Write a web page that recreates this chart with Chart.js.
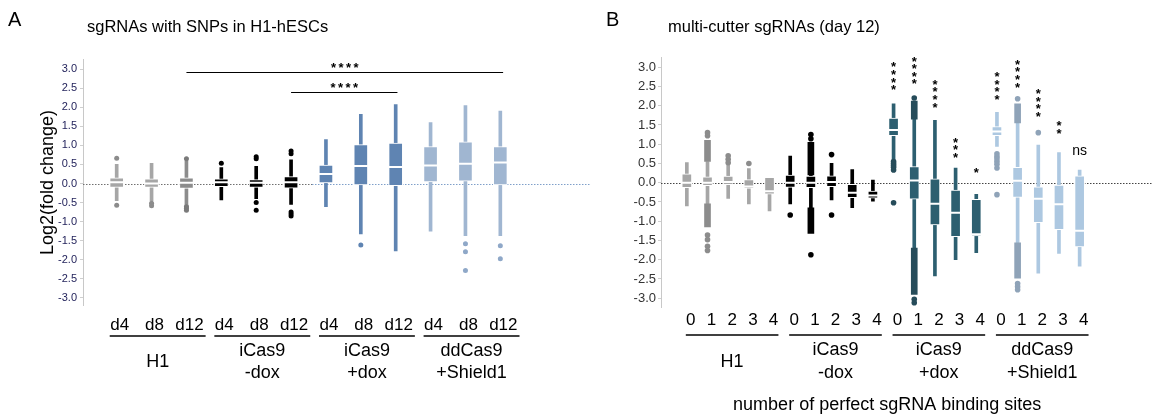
<!DOCTYPE html>
<html>
<head>
<meta charset="utf-8">
<title>sgRNA fold change</title>
<script src="https://cdn.jsdelivr.net/npm/chart.js@4.4.1/dist/chart.umd.min.js"></script>
<style>
  html, body { margin: 0; padding: 0; background: #fff; }
  #wrap { position: relative; width: 1159px; height: 419px; overflow: hidden; }
  canvas { position: absolute; top: 0; }
  #panelA { left: 0; }
  #panelB { left: 580px; }
</style>
</head>
<body>
<div id="wrap">
  <canvas id="panelA" width="600" height="419"></canvas>
  <canvas id="panelB" width="579" height="419"></canvas>
</div>
<script>
const FONT = "'Liberation Sans', Arial, Helvetica, sans-serif";

// ---------- panel A: sgRNAs with SNPs in H1-hESCs ----------
const catsA = ['d4', 'd8', 'd12', 'd4', 'd8', 'd12', 'd4', 'd8', 'd12', 'd4', 'd8', 'd12'];
const groupsA = [['H1'], ['iCas9', '-dox'], ['iCas9', '+dox'], ['ddCas9', '+Shield1']];
const whiskLoA = [-0.45, -0.45, -0.55, -0.43, -0.40, -0.55, -0.61, -1.32, -1.77, -1.25, -1.37, -1.37];
const q1A      = [-0.10, -0.10, -0.13, -0.08, -0.10, -0.12, 0.00, -0.04, -0.06, 0.04, 0.06, -0.04];
const medA     = [0.03, 0.00, 0.02, 0.03, 0.02, 0.03, 0.25, 0.46, 0.43, 0.47, 0.52, 0.55];
const q3A      = [0.15, 0.12, 0.15, 0.12, 0.10, 0.18, 0.48, 1.02, 1.06, 0.97, 1.09, 0.97];
const whiskHiA = [0.50, 0.53, 0.58, 0.42, 0.45, 0.62, 1.15, 1.81, 2.07, 1.60, 2.04, 1.90];
const outliersA = [
  [0.66, -0.57], [-0.52, -0.58], [0.65, -0.60, -0.65, -0.70],
  [0.53], [0.65, 0.70, -0.50, -0.70], [0.78, 0.85, -0.75, -0.80, -0.85],
  [], [-1.61], [],
  [], [-1.58, -1.79, -2.28], [-1.63, -1.97]
];
const bracketFromA = [2, 5];
const bracketToA = [11.08, 8.05];
const bracketYA = [2.93, 2.39];
const bracketTextA = ['****', '****'];

// ---------- panel B: multi-cutter sgRNAs (day 12) ----------
const catsB = ['0', '1', '2', '3', '4', '0', '1', '2', '3', '4', '0', '1', '2', '3', '4', '0', '1', '2', '3', '4'];
const groupsB = [['H1'], ['iCas9', '-dox'], ['iCas9', '+dox'], ['ddCas9', '+Shield1']];
const whiskLoB = [-0.60, -0.55, -0.41, -0.55, -0.73, -0.55, -0.65, -0.45, -0.65, -0.48,
                  0.60, -1.70, -2.42, -2.00, -1.82, 0.94, -1.56, -2.35, -1.84, -2.17];
const q1B      = [-0.13, -0.08, -0.05, -0.15, -0.30, -0.12, -0.13, -0.10, -0.39, -0.40,
                  1.22, -0.43, -1.10, -1.40, -1.38, 1.22, -0.38, -1.04, -1.22, -1.67];
const medB     = [0.00, 0.00, 0.02, -0.10, -0.22, 0.00, 0.00, 0.02, -0.26, -0.33,
                  1.37, 0.06, -0.55, -0.78, -1.34, 1.33, 0.05, -0.42, -0.56, -1.25];
const q3B      = [0.23, 0.15, 0.17, 0.08, 0.14, 0.20, 0.17, 0.18, -0.04, -0.22,
                  1.68, 0.42, 0.10, -0.19, -0.43, 1.46, 0.40, -0.11, -0.06, 0.18];
const whiskHiB = [0.52, 0.55, 0.45, 0.37, 0.14, 0.69, 0.20, 0.50, 0.34, 0.07,
                  2.05, 1.65, 1.62, 0.38, -0.30, 1.83, 1.55, 0.98, 0.78, 0.33];
const tailUpB = [null, [0.55, 1.10], null, null, null, null, [0.20, 1.05], null, null, null,
                 null, [1.65, 2.12], null, null, null, null, [1.55, 2.05], null, null, null];
const tailDownB = [null, [-1.15, -0.55], null, null, null, null, [-1.32, -0.65], null, null, null,
                   null, [-2.90, -1.70], null, null, null, null, [-2.48, -1.56], null, null, null];
const outliersB = [
  [], [1.30, 1.22, -1.36, -1.48, -1.65, -1.76], [0.52, 0.61, 0.70], [0.50], [],
  [-0.84], [1.14, 1.25, -1.87], [0.73, -0.84], [], [],
  [0.55, 0.50, 0.45, 0.40, 0.33, -0.52], [2.20, -3.03, -3.12], [], [], [],
  [0.75, 0.68, 0.62, 0.55, 0.48, 0.38, -0.31], [2.18, -2.62, -2.70, -2.78], [1.30], [], []
];
const sigIdxB = [10, 11, 12, 13, 14, 15, 16, 17, 18, 19];
const sigTextB = ['****', '****', '****', '***', '*', '****', '****', '****', '**', 'ns'];
const sigYB = [2.47, 2.62, 2.02, 0.71, 0.33, 2.22, 2.54, 1.78, 1.34, 0.81];

const yTicks = [-3.0, -2.5, -2.0, -1.5, -1.0, -0.5, 0.0, 0.5, 1.0, 1.5, 2.0, 2.5, 3.0];

// colours per box (style, kept apart from the values)
const boxColorA = ['#a6a6a6', '#a6a6a6', '#8c8c8c', '#000000', '#000000', '#000000',
                   '#5f84b2', '#5f84b2', '#5f84b2', '#a0b6d1', '#a0b6d1', '#a0b6d1'];
const dotColorA = ['#8c8c8c', '#8c8c8c', '#7a7a7a', '#000000', '#000000', '#000000',
                   '#5f84b2', '#5f84b2', '#5f84b2', '#8fa8c8', '#8fa8c8', '#8fa8c8'];
const H1B = '#a6a6a6', DOXB = '#000000', TEAL = '#2d5f70', LBLUE = '#adc8e1';
const boxColorB = [H1B, H1B, H1B, H1B, H1B, DOXB, DOXB, DOXB, DOXB, DOXB,
                   TEAL, TEAL, TEAL, TEAL, TEAL, LBLUE, LBLUE, LBLUE, LBLUE, LBLUE];
const tailColorB = ['#8c8c8c', '#8c8c8c', '#8c8c8c', '#8c8c8c', '#8c8c8c',
                    '#000000', '#000000', '#000000', '#000000', '#000000',
                    '#264c5a', '#264c5a', '#264c5a', '#264c5a', '#264c5a',
                    '#8fa3b8', '#8fa3b8', '#8fa3b8', '#8fa3b8', '#8fa3b8'];

// draws the zero line, titles, group brackets under the axis and significance marks
const panelDecor = {
  id: 'panelDecor',
  beforeDatasetsDraw(chart, args, o) {
    const { ctx, chartArea: ca, scales: { x, y } } = chart;
    const py = Math.round(y.getPixelForValue(0)) + 0.5;
    ctx.save();
    ctx.lineWidth = 1;
    ctx.setLineDash(o.zeroDash);
    o.zeroLine.forEach(seg => {
      ctx.strokeStyle = seg.color;
      ctx.beginPath();
      ctx.moveTo(seg.from === null ? ca.left : x.getPixelForValue(seg.from), py);
      ctx.lineTo(seg.to === null ? ca.right : x.getPixelForValue(seg.to), py);
      ctx.stroke();
    });
    ctx.restore();
  },
  afterDraw(chart, args, o) {
    const { ctx, scales: { x, y } } = chart;
    ctx.save();
    ctx.fillStyle = '#000';
    ctx.textAlign = 'left';
    ctx.textBaseline = 'alphabetic';
    ctx.font = `20px ${FONT}`;
    ctx.fillText(o.letter, o.letterX, o.letterY);
    ctx.font = `16.5px ${FONT}`;
    ctx.fillText(o.title, o.titleX, o.titleY);

    // group underlines and names
    ctx.strokeStyle = '#000';
    ctx.lineWidth = 1.5;
    ctx.font = `18px ${FONT}`;
    ctx.textAlign = 'center';
    ctx.textBaseline = 'middle';
    o.groups.forEach((g, gi) => {
      const first = gi * o.groupSize, last = first + o.groupSize - 1;
      const x1 = x.getPixelForValue(first - o.groupPad[0]);
      const x2 = x.getPixelForValue(last + o.groupPad[1]);
      ctx.beginPath();
      ctx.moveTo(x1, o.groupLineY);
      ctx.lineTo(x2, o.groupLineY);
      ctx.stroke();
      const cx = (x1 + x2) / 2;
      g.forEach((line, li) => {
        ctx.fillText(line, cx, o.groupLabelY + (li - (g.length - 1) / 2) * o.groupLineGap);
      });
    });
    if (o.axisTitle) {
      const x1 = x.getPixelForValue(-o.groupPad[0]);
      const x2 = x.getPixelForValue(o.groups.length * o.groupSize - 1 + o.groupPad[1]);
      ctx.fillText(o.axisTitle, (x1 + x2) / 2, o.axisTitleY);
    }

    // significance brackets (horizontal stars)
    ctx.font = `bold 13px ${FONT}`;
    (o.brackets || []).forEach(b => {
      const x1 = x.getPixelForValue(b.from), x2 = x.getPixelForValue(b.to);
      const py = Math.round(y.getPixelForValue(b.y)) + 0.5;
      ctx.lineWidth = 1.2;
      ctx.beginPath();
      ctx.moveTo(x1, py);
      ctx.lineTo(x2, py);
      ctx.stroke();
      const cx = (x1 + x2) / 2;
      const n = b.text.length;
      for (let k = 0; k < n; k++) {
        ctx.fillText('*', cx + (k - (n - 1) / 2) * 7.5, py - 4);
      }
    });

    // significance marks stacked vertically above single boxes
    (o.marks || []).forEach(m => {
      const cx = x.getPixelForValue(m.at);
      const py = y.getPixelForValue(m.y);
      if (m.text === 'ns') {
        ctx.font = `14px ${FONT}`;
        ctx.fillText('ns', cx, py);
        return;
      }
      ctx.font = `bold 13px ${FONT}`;
      for (let k = 0; k < m.text.length; k++) {
        ctx.fillText('*', cx, py - k * 7.6 + 3);
      }
    });
    ctx.restore();
  }
};

function flatOutliers(outliers, colors) {
  const pts = [], cols = [];
  outliers.forEach((vals, i) => vals.forEach(v => { pts.push({ x: i, y: v }); cols.push(colors[i]); }));
  return { pts, cols };
}

function boxDatasets(p) {
  const idx = p.cats.map((c, i) => i);
  const out = flatOutliers(p.outliers, p.dotColors);
  const ds = [
    {
      type: 'line', label: 'median', showLine: false,
      data: idx.map(i => ({ x: i, y: p.med[i] })),
      pointStyle: 'line', pointRadius: p.boxW / 2, pointBorderColor: '#fff', pointBorderWidth: 2
    },
    {
      type: 'line', label: 'outliers', showLine: false,
      data: out.pts,
      pointStyle: 'circle', pointRadius: p.dotR, pointBackgroundColor: out.cols, pointBorderWidth: 0
    },
    {
      label: 'box', grouped: false, maxBarThickness: p.boxW,
      data: idx.map(i => ({ x: i, y: [p.q1[i], p.q3[i]] })),
      backgroundColor: p.boxColors, borderColor: '#fff', borderWidth: 1, borderSkipped: false
    }
  ];
  if (p.tailUp) {
    [p.tailUp, p.tailDown].forEach(tails => {
      const pts = [], cols = [];
      tails.forEach((t, i) => { if (t) { pts.push({ x: i, y: t }); cols.push(p.tailColors[i]); } });
      ds.push({ label: 'tail', grouped: false, maxBarThickness: p.tailW, data: pts, backgroundColor: cols });
    });
  }
  ds.push({
    label: 'whisker', grouped: false, maxBarThickness: p.whiskW,
    data: idx.map(i => ({ x: i, y: [p.lo[i], p.hi[i]] })),
    backgroundColor: p.boxColors
  });
  return ds;
}

function makePanel(canvasId, p) {
  return new Chart(document.getElementById(canvasId), {
    type: 'bar',
    data: { datasets: boxDatasets(p) },
    plugins: [panelDecor],
    options: {
      responsive: false,
      animation: false,
      devicePixelRatio: 1,
      events: [],
      categoryPercentage: 1,
      barPercentage: 1,
      layout: { padding: { top: p.top, right: p.padRight, left: 0, bottom: 0 } },
      plugins: {
        legend: { display: false },
        tooltip: { enabled: false },
        panelDecor: p.decor
      },
      scales: {
        x: {
          type: 'linear', min: p.xMin, max: p.xMax, offset: false,
          grid: { display: false, drawTicks: false },
          border: { display: false },
          afterBuildTicks: s => { s.ticks = p.cats.map((c, i) => ({ value: i })); },
          afterFit: s => { s.height = 419 - p.bottom; },
          ticks: {
            autoSkip: false, maxRotation: 0, padding: p.xTickPad, labelOffset: p.labelOffset,
            color: '#000', font: { family: FONT, size: 17 },
            callback: v => p.cats[v]
          }
        },
        y: {
          min: p.yMin, max: p.yMax,
          afterBuildTicks: s => { s.ticks = yTicks.map(v => ({ value: v })); },
          afterFit: s => { s.width = p.axisLeft; },
          grid: { drawOnChartArea: false, drawTicks: true, tickLength: 3, color: '#cfcfcf' },
          border: { display: true, color: '#c8c8c8', width: 1 },
          title: p.yTitle ? {
            display: true, text: p.yTitle, color: '#000',
            font: { family: FONT, size: 18 }, padding: { top: 37, bottom: 0 }
          } : { display: false },
          ticks: {
            padding: p.yTickPad, color: p.yTickColor,
            font: { family: FONT, size: p.yTickSize },
            callback: v => v.toFixed(1)
          }
        }
      }
    }
  });
}

makePanel('panelA', {
  cats: catsA, lo: whiskLoA, q1: q1A, med: medA, q3: q3A, hi: whiskHiA, outliers: outliersA,
  boxColors: boxColorA, dotColors: dotColorA,
  boxW: 14, whiskW: 3, dotR: 2.5,
  top: 59.5, bottom: 305.6, padRight: 4, axisLeft: 83,
  xMin: -0.966, xMax: 13.6, yMin: -3.2, yMax: 3.25,
  xTickPad: 10, labelOffset: 3, yTickPad: 3, yTickColor: '#24245c', yTickSize: 11,
  yTitle: 'Log2(fold change)',
  decor: {
    letter: 'A', letterX: 8, letterY: 26,
    title: 'sgRNAs with SNPs in H1-hESCs', titleX: 87, titleY: 32,
    zeroDash: [1.5, 1.5],
    zeroLine: [{ from: null, to: 5.6, color: '#707070' }, { from: 5.6, to: null, color: '#7f9fc9' }],
    groups: groupsA, groupSize: 3, groupPad: [0.2, 0.55],
    groupLineY: 336, groupLabelY: 362, groupLineGap: 21.6,
    brackets: bracketFromA.map((f, i) => ({ from: f, to: bracketToA[i], y: bracketYA[i], text: bracketTextA[i] }))
  }
});

makePanel('panelB', {
  cats: catsB, lo: whiskLoB, q1: q1B, med: medB, q3: q3B, hi: whiskHiB, outliers: outliersB,
  tailUp: tailUpB, tailDown: tailDownB, tailColors: tailColorB,
  boxColors: boxColorB, dotColors: tailColorB,
  boxW: 10, whiskW: 3, tailW: 6, dotR: 2.8,
  top: 57.6, bottom: 307.8, padRight: 4, axisLeft: 81,
  xMin: -1.25, xMax: 22.5, yMin: -3.25, yMax: 3.25,
  xTickPad: 2, labelOffset: 4, yTickPad: 2, yTickColor: '#333333', yTickSize: 13,
  yTitle: null,
  decor: {
    letter: 'B', letterX: 26, letterY: 26,
    title: 'multi-cutter sgRNAs (day 12)', titleX: 88, titleY: 32,
    zeroDash: [1.5, 1.5],
    zeroLine: [{ from: null, to: null, color: '#444444' }],
    groups: groupsB, groupSize: 5, groupPad: [0.05, 0.43],
    groupLineY: 335, groupLabelY: 362, groupLineGap: 23,
    axisTitle: 'number of perfect sgRNA binding sites', axisTitleY: 405,
    marks: sigIdxB.map((at, i) => ({ at, y: sigYB[i], text: sigTextB[i] }))
  }
});
</script>
</body>
</html>
